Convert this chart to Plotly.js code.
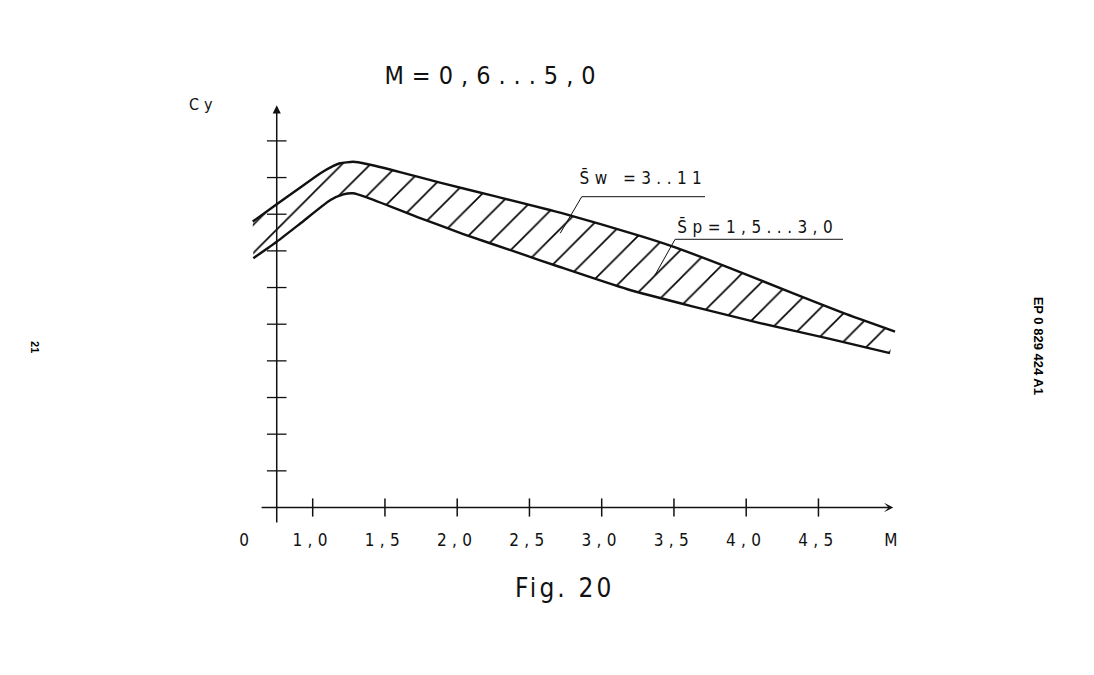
<!DOCTYPE html>
<html>
<head>
<meta charset="utf-8">
<script src="https://cdn.plot.ly/plotly-3.0.1.min.js"></script>
<style>
  html, body { margin: 0; padding: 0; background: #fff; }
  #chart { width: 1094px; height: 675px; }
</style>
</head>
<body>
<div id="chart"></div>
<script>
// ---- data (M = Mach number, Cy = coefficient, arbitrary tick units) ----
const upperM  = [0.585, 0.751, 0.912, 1.051, 1.140, 1.189, 1.281, 1.374, 1.604, 1.881, 2.273, 2.725, 3.265, 3.484, 3.888, 4.326, 4.670, 5.030];
const upperCy = [7.80, 8.27, 8.72, 9.11, 9.31, 9.39, 9.43, 9.37, 9.15, 8.86, 8.48, 8.03, 7.41, 7.13, 6.53, 5.84, 5.31, 4.80];
const lowerM  = [0.589, 0.751, 0.912, 1.120, 1.212, 1.279, 1.374, 1.720, 2.042, 2.435, 2.711, 3.173, 3.634, 4.096, 4.557, 4.995];
const lowerCy = [6.80, 7.25, 7.74, 8.38, 8.54, 8.57, 8.46, 7.93, 7.46, 6.93, 6.56, 5.96, 5.48, 5.03, 4.62, 4.21];

const xTickVals   = [0.545, 1.0, 1.5, 2.0, 2.5, 3.0, 3.5, 4.0, 4.5];
const xTickLabels = ['0', '1,0', '1,5', '2,0', '2,5', '3,0', '3,5', '4,0', '4,5'];
const xTickMarks  = [1.0, 1.5, 2.0, 2.5, 3.0, 3.5, 4.0, 4.5];
const yTickMarks  = [1, 2, 3, 4, 5, 6, 7, 8, 9, 10];

const titleText = 'M=0,6...5,0';
const swLabel = 'S\u0304w =3..11';
const spLabel = 'S\u0304p=1,5...3,0';

// ---- geometry of the drawn axes (in data units) ----
const Y_AXIS_AT = 0.751;
const X_AXIS_FROM = 0.636, X_AXIS_TO = 5.018;
const Y_AXIS_FROM = -0.45, Y_AXIS_TO = 10.97;

const FONT = 'DejaVu Sans Condensed, Liberation Sans Narrow, DejaVu Sans, sans-serif';
const INK = '#111';

const traces = [
  { x: lowerM, y: lowerCy, mode: 'lines', line: { color: INK, width: 2.4, shape: 'spline', smoothing: 0.5 },
    hoverinfo: 'skip', showlegend: false },
  { x: upperM, y: upperCy, mode: 'lines', line: { color: INK, width: 2.4, shape: 'spline', smoothing: 0.5 },
    fill: 'tonexty', fillcolor: 'rgba(255,255,255,0)',
    fillpattern: { shape: '/', size: 20, solidity: 0.08, fgcolor: '#000', bgcolor: 'rgba(255,255,255,0)' },
    hoverinfo: 'skip', showlegend: false },
  { x: xTickMarks, y: xTickMarks.map(() => 0), mode: 'markers',
    marker: { symbol: 'line-ns-open', size: 13, color: INK, line: { color: INK, width: 1.5 } },
    hoverinfo: 'skip', showlegend: false, cliponaxis: false },
  { x: yTickMarks.map(() => Y_AXIS_AT), y: yTickMarks, mode: 'markers',
    marker: { symbol: 'line-ew-open', size: 14, color: INK, line: { color: INK, width: 1.3 } },
    hoverinfo: 'skip', showlegend: false, cliponaxis: false }
];

const annotations = [
  // axes with arrow heads
  { x: Y_AXIS_AT, y: Y_AXIS_TO, ax: Y_AXIS_AT, ay: Y_AXIS_FROM, xref: 'x', yref: 'y', axref: 'x', ayref: 'y',
    text: '', showarrow: true, arrowhead: 2, arrowsize: 1.1, arrowwidth: 1.5, arrowcolor: INK, standoff: 0 },
  { x: X_AXIS_TO, y: 0, ax: X_AXIS_FROM, ay: 0, xref: 'x', yref: 'y', axref: 'x', ayref: 'y',
    text: '', showarrow: true, arrowhead: 3, arrowsize: 1.2, arrowwidth: 1.3, arrowcolor: INK, standoff: 0 },
  // labels
  { x: 5.02, y: -0.027, xref: 'x', yref: 'paper', yanchor: 'middle', text: 'M', showarrow: false,
    font: { family: FONT, size: 17, color: INK } },
  { x: -0.011, y: 0.971, xref: 'paper', yref: 'paper', text: 'Cy', showarrow: false,
    font: { family: FONT, size: 16, color: INK } },
  { x: 3.289, y: 8.99, xref: 'x', yref: 'y', text: swLabel, showarrow: false,
    font: { family: FONT, size: 17, color: INK } },
  { x: 4.075, y: 7.66, xref: 'x', yref: 'y', text: spLabel, showarrow: false,
    font: { family: FONT, size: 17, color: INK } },
  { x: 0.5, y: -0.172, xref: 'paper', yref: 'paper', text: 'Fig. 20', showarrow: false,
    font: { family: FONT, size: 26, color: INK } },
  { x: -0.237, y: 0.404, xref: 'paper', yref: 'paper', text: '<b>21</b>', textangle: 90, showarrow: false,
    font: { family: 'Liberation Sans, Arial, sans-serif', size: 11, color: '#000' } },
  { x: 1.1616, y: 0.406, xref: 'paper', yref: 'paper', text: '<b>EP 0 829 424 A1</b>', textangle: 90, showarrow: false,
    font: { family: 'Liberation Sans, Arial, sans-serif', size: 13, color: '#000' } }
];

const shapes = [
  // leader lines of the two labels
  { type: 'path', xref: 'x', yref: 'y', path: 'M 2.713 7.48 L 2.862 8.478 L 3.715 8.478', line: { color: INK, width: 1 } },
  { type: 'path', xref: 'x', yref: 'y', path: 'M 3.369 6.342 L 3.508 7.316 L 4.670 7.316', line: { color: INK, width: 1 } }
];

const layout = {
  width: 1094, height: 675,
  margin: { l: 200, r: 164, t: 80, b: 147 },
  paper_bgcolor: '#fff', plot_bgcolor: '#fff',
  title: { text: titleText, x: 0.4516, xanchor: 'center', y: 1 - 75 / 675, yanchor: 'middle', yref: 'container',
           font: { family: FONT, size: 25, color: INK } },
  xaxis: { range: [0.2201, 5.2720], showgrid: false, zeroline: false, showline: false, ticks: '',
           tickvals: xTickVals, ticktext: xTickLabels, tickfont: { family: FONT, size: 17, color: INK },
           fixedrange: true },
  yaxis: { range: [-0.559, 11.661], visible: false, showgrid: false, zeroline: false, fixedrange: true },
  showlegend: false,
  annotations: annotations,
  shapes: shapes
};

Plotly.newPlot('chart', traces, layout, { staticPlot: true, displayModeBar: false }).then(() => {
  const spacing = { 'Fig. 20': '0.12em', '21': '0', 'EP 0 829 424 A1': '0' };
  document.querySelectorAll('#chart svg text').forEach(t => {
    const s = t.textContent;
    t.style.letterSpacing = (s in spacing) ? spacing[s] : '0.32em';
  });
});
</script>
</body>
</html>
